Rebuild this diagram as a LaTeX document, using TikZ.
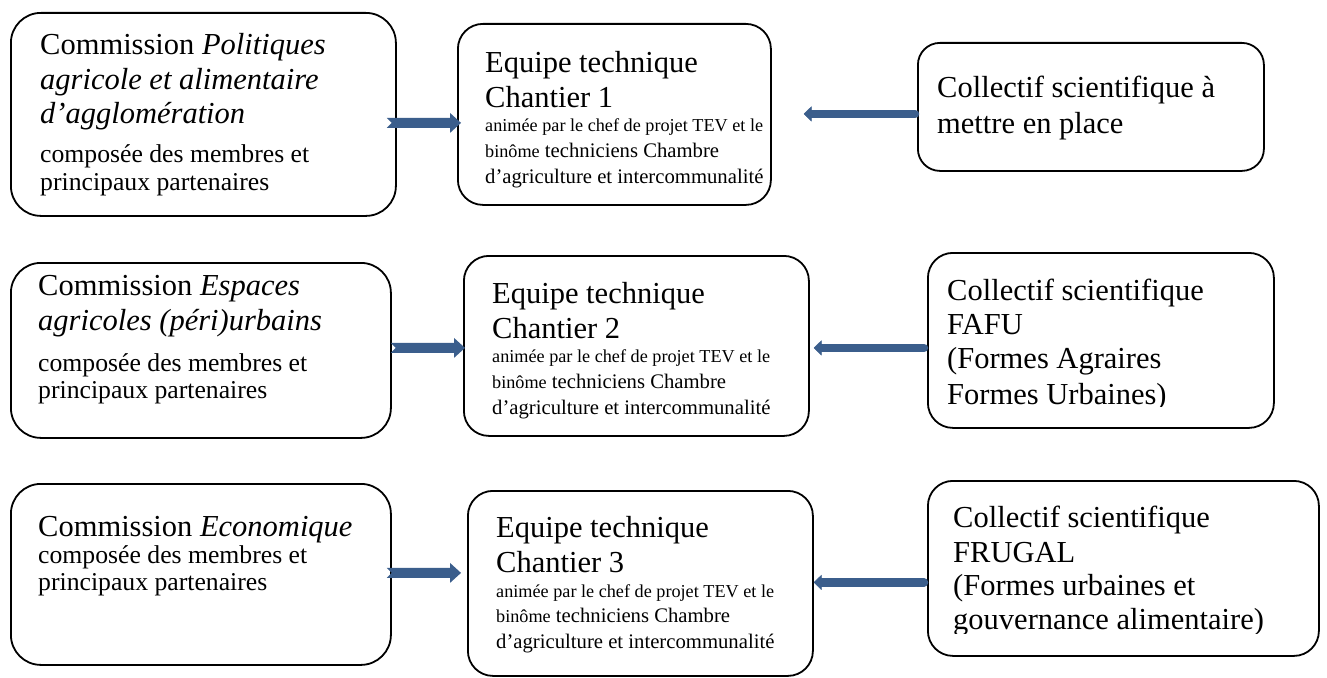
\documentclass[tikz,border=0pt]{standalone}
\usepackage{fontspec}
\setmainfont{Liberation Serif}
\usetikzlibrary{arrows.meta,calc}
\definecolor{arrowblue}{RGB}{59,94,140}
\newcommand\blockarrow[2]{%
  \fill[arrowblue] ([xshift=5pt]#1) -- ([yshift=5pt]#1) -- ([xshift=-11pt,yshift=5pt]#2)
    -- ([xshift=-11pt,yshift=10pt]#2) -- (#2) -- ([xshift=-11pt,yshift=-10pt]#2)
    -- ([xshift=-11pt,yshift=-5pt]#2) -- ([yshift=-5pt]#1) -- cycle;}
\tikzset{
  box/.style={draw=black, line width=1.8pt, rounded corners=#1, inner sep=0pt, anchor=north west},
  big/.style={anchor=base west, inner sep=0pt, font=\fontsize{30.5}{34}\selectfont},
  mid/.style={anchor=base west, inner sep=0pt, font=\fontsize{25.7}{29}\selectfont},
  md/.style={anchor=base west, inner sep=0pt, font=\fontsize{20.7}{24}\selectfont},
  sm/.style={anchor=base west, inner sep=0pt, font=\fontsize{18.2}{20}\selectfont},
  linearrow/.style={draw=arrowblue, line width=8.5pt, line cap=round,
    -{Triangle[length=8pt,width=15.5pt,round,line width=0.5pt]}},
}
\newcommand\smw[1]{{\fontsize{18.2}{20}\selectfont #1}}
\begin{document}
\begin{tikzpicture}[x=1pt,y=-1pt]
\fill[white] (0,0) rectangle (1327,677);
\useasboundingbox (0,0) rectangle (1327,677);

% boxes
\node[box=30pt, minimum width=385pt, minimum height=203pt] (a1) at (10,12) {};
\node[box=25pt, minimum width=313pt, minimum height=181pt] (b1) at (457,23) {};
\node[box=22pt, minimum width=346pt, minimum height=128pt] (c1) at (917,42) {};
\node[box=30pt, minimum width=380pt, minimum height=175pt] (a2) at (10,262) {};
\node[box=25pt, minimum width=345pt, minimum height=180pt] (b2) at (463,255) {};
\node[box=25pt, minimum width=346pt, minimum height=175pt] (c2) at (927,252) {};
\node[box=30pt, minimum width=380pt, minimum height=181pt] (a3) at (10,483) {};
\node[box=25pt, minimum width=345pt, minimum height=185pt] (b3) at (467,490) {};
\node[box=25pt, minimum width=391pt, minimum height=175pt] (c3) at (927,480) {};

% texts row 1
\node[big] (a1l1) at (40,55) {Commission \textit{Politiques}};
\node[big] (a1l2) at (40,89) {\textit{agricole et alimentaire}};
\node[big] (a1l3) at (40,123) {\textit{d’agglomération}};
\node[mid] (a1l4) at (40,162) {composée des membres et};
\node[mid] (a1l5) at (40,190) {principaux partenaires};

\node[big] (b1l1) at (485,73) {Equipe technique};
\node[big] (b1l2) at (485,107) {Chantier 1};
\node[sm] (b1l3) at (485,131) {animée par le chef de projet TEV et le};
\node[md] (b1l4) at (485,157) {\smw{binôme} techniciens Chambre};
\node[md] (b1l5) at (485,183) {d’agriculture et intercommunalité};

\node[big] (c1l1) at (937,97) {Collectif scientifique à};
\node[big] (c1l2) at (937,133) {mettre en place};

% texts row 2
\node[big] (a2l1) at (38,295) {Commission \textit{Espaces}};
\node[big] (a2l2) at (38,330) {\textit{agricoles (péri)urbains}};
\node[mid] (a2l3) at (38,371) {composée des membres et};
\node[mid] (a2l4) at (38,398) {principaux partenaires};

\node[big] (b2l1) at (492,303) {Equipe technique};
\node[big] (b2l2) at (492,338) {Chantier 2};
\node[sm] (b2l3) at (492,362) {animée par le chef de projet TEV et le};
\node[md] (b2l4) at (492,388) {\smw{binôme} techniciens Chambre};
\node[md] (b2l5) at (492,414) {d’agriculture et intercommunalité};

\node[big] (c2l1) at (947,300) {Collectif scientifique};
\node[big] (c2l2) at (947,334) {FAFU};
\node[big] (c2l3) at (947,368) {(Formes Agraires};
\begin{scope}
\clip (900,380) rectangle (1300,406);
\node[big] (c2l4) at (947,404) {Formes Urbaines)};
\end{scope}

% texts row 3
\node[big] (a3l1) at (38,536) {Commission \textit{Economique}};
\node[mid] (a3l2) at (38,563) {composée des membres et};
\node[mid] (a3l3) at (38,590) {principaux partenaires};

\node[big] (b3l1) at (496,537) {Equipe technique};
\node[big] (b3l2) at (496,572) {Chantier 3};
\node[sm] (b3l3) at (496,597) {animée par le chef de projet TEV et le};
\node[md] (b3l4) at (496,622) {\smw{binôme} techniciens Chambre};
\node[md] (b3l5) at (496,648) {d’agriculture et intercommunalité};

\node[big] (c3l1) at (953,527) {Collectif scientifique};
\node[big] (c3l2) at (953,562) {FRUGAL};
\node[big] (c3l3) at (953,595) {(Formes urbaines et};
\begin{scope}
\clip (900,600) rectangle (1310,633);
\node[big] (c3l4) at (953,629) {gouvernance alimentaire)};
\end{scope}

% block arrows (commission -> equipe)
\coordinate (r1s) at ($(a1.east)+(-10,8.5)$);
\coordinate (r1t) at ($(b1.west)+(4,8.5)$);
\coordinate (r2s) at ($(a2.east)+(-1,-2.5)$);
\coordinate (r2t) at ($(b2.west)+(2,2)$);
\coordinate (r3s) at ($(a3.east)+(-5,-1.5)$);
\coordinate (r3t) at ($(b3.west)+(-6,-10.5)$);
\blockarrow{r1s}{r1t}
\blockarrow{r2s}{r2t}
\blockarrow{r3s}{r3t}

% line arrows (collectif -> equipe)
\coordinate (l1s) at ($(c1.west)+(-2,7)$);
\coordinate (l1t) at ($(b1.east)+(32,-0.5)$);
\coordinate (l2s) at ($(c2.west)+(-3,7.5)$);
\coordinate (l2t) at ($(b2.east)+(4,2)$);
\coordinate (l3s) at ($(c3.west)+(-3,14)$);
\coordinate (l3t) at ($(b3.east)+(0,-1)$);
\draw[linearrow] (l1s) -- (l1t);
\draw[linearrow] (l2s) -- (l2t);
\draw[linearrow] (l3s) -- (l3t);
\end{tikzpicture}
\end{document}
